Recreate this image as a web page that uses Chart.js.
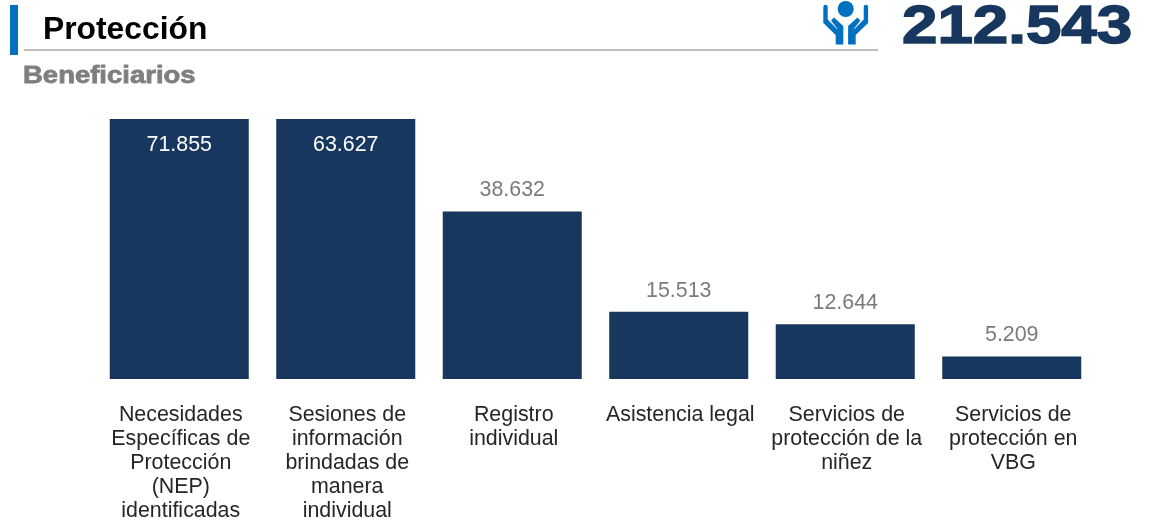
<!DOCTYPE html>
<html lang="es">
<head>
<meta charset="utf-8">
<title>Protección</title>
<script src="https://cdn.jsdelivr.net/npm/chart.js@4"></script>
<style>
    html, body { margin: 0; padding: 0; background: #fff; width: 1149px; height: 520px; overflow: hidden; }
    body { position: relative; font-family: "Liberation Sans", Arial, sans-serif; }
    #accent { position: absolute; left: 10px; top: 5px; width: 8px; height: 50px; background: #0070c0; }
    #rule { position: absolute; left: 24px; top: 49px; width: 854px; height: 2px; background: #bfbfbf; }
    #title { position: absolute; left: 43px; top: 9px; font-size: 31.8px; line-height: 38px; font-weight: bold; color: #000; }
    #subtitle { position: absolute; left: 23px; top: 61px; font-size: 24px; line-height: 28px; font-weight: bold; color: #7f7f7f; -webkit-text-stroke: 0.8px #7f7f7f; transform-origin: left top; transform: scaleX(1.145); }
    #total { position: absolute; left: 902px; top: -7px; font-size: 53.5px; line-height: 64px; font-weight: bold; color: #17375e; -webkit-text-stroke: 1.5px #17375e; transform-origin: left top; transform: scaleX(1.19); }
    #icon { position: absolute; left: 823px; top: 0; }
    #chart { position: absolute; left: 0; top: 0; }
</style>
</head>
<body>
<canvas id="chart" width="1149" height="520"></canvas>
<div id="accent"></div>
<div id="rule"></div>
<div id="title">Protección</div>
<div id="subtitle">Beneficiarios</div>
<svg id="icon" width="46" height="46" viewBox="0 0 46 46">
    <circle cx="22.7" cy="9" r="8" fill="#0070c0"/>
    <g fill="#0070c0">
        <path d="M0.3 7 a2.2 2.2 0 0 1 4.4 0 V19.5 L14 29 H20.3 V44.5 H12.7 V35 L0.3 23 Z"/>
        <path d="M8 20.5 L11 17.5 L20.3 26 V29.5 H15 Z"/>
    </g>
    <g fill="#0070c0" transform="translate(45.4 0) scale(-1 1)">
        <path d="M0.3 7 a2.2 2.2 0 0 1 4.4 0 V19.5 L14 29 H20.3 V44.5 H12.7 V35 L0.3 23 Z"/>
        <path d="M8 20.5 L11 17.5 L20.3 26 V29.5 H15 Z"/>
    </g>
</svg>
<div id="total">212.543</div>

<script>
const categories = [
    ['Necesidades', 'Específicas de', 'Protección', '(NEP)', 'identificadas'],
    ['Sesiones de', 'información', 'brindadas de', 'manera', 'individual'],
    ['Registro', 'individual'],
    ['Asistencia legal'],
    ['Servicios de', 'protección de la', 'niñez'],
    ['Servicios de', 'protección en', 'VBG']
];
const beneficiarios = [71855, 63627, 38632, 15513, 12644, 5209];
const axisMax = 60000;

const FONT = '"Liberation Sans", Arial, sans-serif';

// Value labels: inside the bar when it runs past the axis top, above it otherwise
const valueLabels = {
    id: 'valueLabels',
    afterDatasetsDraw(chart) {
        const { ctx, chartArea } = chart;
        const meta = chart.getDatasetMeta(0);
        ctx.save();
        ctx.font = `21.4px ${FONT}`;
        ctx.textAlign = 'center';
        ctx.textBaseline = 'middle';
        meta.data.forEach((bar, i) => {
            const value = beneficiarios[i];
            const text = value.toLocaleString('de-DE');
            if (value > axisMax) {
                ctx.fillStyle = '#ffffff';
                ctx.fillText(text, bar.x, chartArea.top + 26);
            } else {
                ctx.fillStyle = '#7a7a7a';
                ctx.fillText(text, bar.x, bar.y - 21);
            }
        });
        ctx.restore();
    }
};

new Chart(document.getElementById('chart'), {
    type: 'bar',
    data: {
        labels: categories,
        datasets: [{
            data: beneficiarios,
            backgroundColor: '#17375e',
            categoryPercentage: 1,
            barPercentage: 0.835
        }]
    },
    options: {
        responsive: false,
        animation: false,
        layout: { padding: { left: 96, right: 54, top: 119, bottom: 0 } },
        plugins: {
            legend: { display: false },
            title: { display: false },
            tooltip: { enabled: false }
        },
        scales: {
            y: { display: false, min: 0, max: axisMax },
            x: {
                afterFit(scale) { scale.height = 141; },
                grid: { display: false },
                border: { display: false },
                ticks: {
                    autoSkip: false,
                    maxRotation: 0,
                    minRotation: 0,
                    padding: 16,
                    labelOffset: 1.5,
                    color: '#262626',
                    font: { family: FONT, size: 21.4, lineHeight: 1.12 }
                }
            }
        }
    },
    plugins: [valueLabels]
});
</script>
</body>
</html>
